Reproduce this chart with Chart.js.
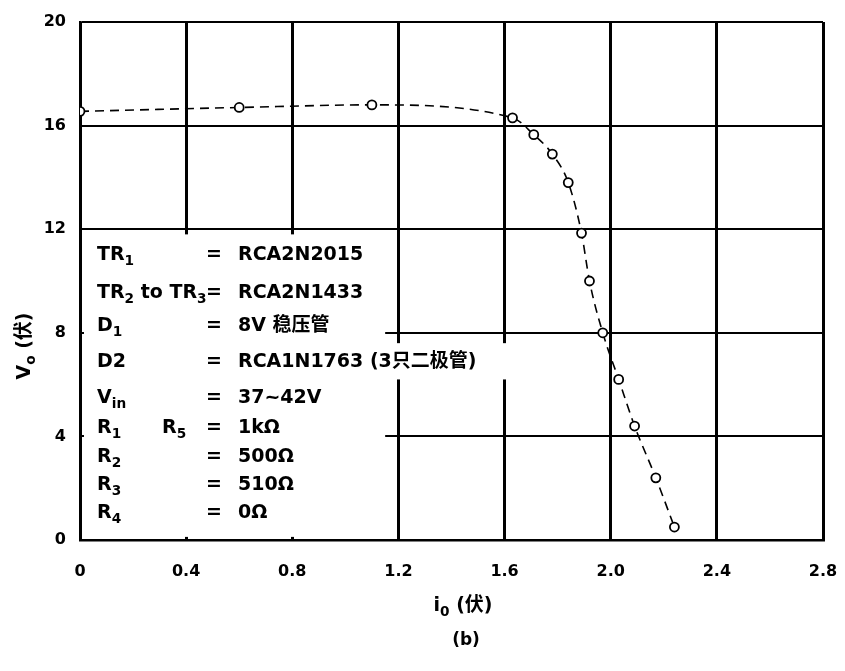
<!DOCTYPE html>
<html>
<head>
<meta charset="utf-8">
<script src="https://cdn.jsdelivr.net/npm/chart.js@4.4.0/dist/chart.umd.min.js"></script>
<style>
  html, body { margin: 0; padding: 0; background: #fff; }
  #wrap { width: 845px; height: 671px; }
</style>
</head>
<body>
<div id="wrap"><canvas id="chart" width="845" height="671"></canvas></div>
<script>
// output current i0 vs output voltage V0
const currentValues = [0, 0.6, 1.1, 1.63, 1.71, 1.78, 1.84, 1.89, 1.92, 1.97, 2.03, 2.09, 2.17, 2.24];
const voltageValues = [16.55, 16.7, 16.8, 16.3, 15.65, 14.9, 13.8, 11.85, 10.0, 8.0, 6.2, 4.4, 2.4, 0.5];

const xTicks = [0, 0.4, 0.8, 1.2, 1.6, 2.0, 2.4, 2.8];
const yTicks = [0, 4, 8, 12, 16, 20];

// component list, "_{..}" marks a subscript, "|" jumps to second name column
const paramNames = ["TR_{1}", "TR_{2} to TR_{3}", "D_{1}", "D2", "V_{in}", "R_{1}|R_{5}", "R_{2}", "R_{3}", "R_{4}"];
const paramValues = ["RCA2N2015", "RCA2N1433", "8V 稳压管", "RCA1N1763 (3只二极管)", "37~42V", "1kΩ", "500Ω", "510Ω", "0Ω"];

const xTitle = "i_{0} (伏)";
const yTitle = "V_{o} (伏)";
const caption = "(b)";

const FONT = "'DejaVu Sans', 'Noto Sans CJK SC', sans-serif";

// draw text with subscripts, returns end x
function drawRich(ctx, str, x, y, size, measureOnly) {
    const parts = str.split(/(_\{[^}]*\})/).filter(p => p.length);
    parts.forEach(p => {
        let t = p, s = size, dy = 0;
        if (p.startsWith("_{")) {
            t = p.slice(2, -1);
            s = size * 0.72;
            dy = size * 0.32;
        }
        ctx.font = `bold ${s}px ${FONT}`;
        if (!measureOnly) ctx.fillText(t, x, y + dy);
        x += ctx.measureText(t).width;
    });
    return x;
}

const textPlugin = {
    id: "textPlugin",
    beforeDatasetsDraw(chart) {
        const ctx = chart.ctx;
        const xs = chart.scales.x;
        const ys = chart.scales.y;
        ctx.save();

        // white panel behind the component list
        ctx.fillStyle = "#fff";
        const bx0 = xs.getPixelForValue(0.015), bx1 = xs.getPixelForValue(1.15);
        const by0 = ys.getPixelForValue(11.8), by1 = ys.getPixelForValue(0.12);
        ctx.fillRect(bx0, by0, bx1 - bx0, by1 - by0);
        const cx1 = xs.getPixelForValue(1.69);
        const cy0 = ys.getPixelForValue(7.6), cy1 = ys.getPixelForValue(6.2);
        ctx.fillRect(bx1, cy0, cx1 - bx1, cy1 - cy0);

        ctx.fillStyle = "#000";
        ctx.textBaseline = "middle";
        ctx.textAlign = "left";
        const rowY = [255, 293, 326, 362, 398, 428, 457, 485, 513];
        const size = 19;
        paramNames.forEach((name, i) => {
            const y = rowY[i];
            const cols = name.split("|");
            drawRich(ctx, cols[0], 97, y, size);
            if (cols[1]) drawRich(ctx, cols[1], 162, y, size);
            ctx.font = `bold ${size}px ${FONT}`;
            ctx.fillText("=", 206, y);
            ctx.fillText(paramValues[i], 238, y);
        });
        ctx.restore();
    },
    afterDraw(chart) {
        const ctx = chart.ctx;
        ctx.save();
        ctx.fillStyle = "#000";
        ctx.textBaseline = "middle";
        ctx.textAlign = "left";

        // x title
        let w = drawRich(ctx, xTitle, 0, 0, 19, true);
        drawRich(ctx, xTitle, 463 - w / 2, 606, 19);

        // caption
        ctx.font = `bold 17px ${FONT}`;
        ctx.textAlign = "center";
        ctx.fillText(caption, 466, 641);
        ctx.textAlign = "left";

        // y title, rotated
        ctx.translate(25, 346);
        ctx.rotate(-Math.PI / 2);
        w = drawRich(ctx, yTitle, 0, 0, 19, true);
        drawRich(ctx, yTitle, -w / 2, 0, 19);
        ctx.restore();
    }
};

const points = currentValues.map((x, i) => ({ x: x, y: voltageValues[i] }));

new Chart(document.getElementById("chart"), {
    type: "line",
    data: {
        datasets: [{
            data: points,
            borderColor: "#000",
            borderWidth: 1.6,
            borderDash: [9, 6],
            cubicInterpolationMode: "monotone",
            pointRadius: 4.5,
            pointBorderWidth: 1.8,
            pointBackgroundColor: "#fff",
            pointBorderColor: "#000",
            fill: false
        }]
    },
    options: {
        responsive: false,
        animation: false,
        layout: { padding: { left: 0, right: 22, top: 22, bottom: 0 } },
        plugins: {
            legend: { display: false },
            tooltip: { enabled: false }
        },
        scales: {
            x: {
                type: "linear",
                min: 0,
                max: 2.8,
                afterFit: scale => {
                    scale.height = 131;
                    scale.paddingLeft = 0;
                    scale.paddingRight = 0;
                },
                afterBuildTicks: scale => { scale.ticks = xTicks.map(v => ({ value: v })); },
                grid: { color: "#000", lineWidth: 3, drawTicks: false },
                border: { color: "#000", width: 2.5 },
                ticks: {
                    color: "#000",
                    padding: 22,
                    font: { family: FONT, size: 16, weight: "bold" },
                    callback: v => v === 0 ? "0" : v.toFixed(1)
                }
            },
            y: {
                type: "linear",
                min: 0,
                max: 20,
                afterFit: scale => {
                    scale.width = 80;
                    scale.paddingTop = 0;
                    scale.paddingBottom = 0;
                },
                afterBuildTicks: scale => { scale.ticks = yTicks.map(v => ({ value: v })); },
                grid: { color: "#000", lineWidth: 2, drawTicks: false },
                border: { color: "#000", width: 2.5 },
                ticks: {
                    color: "#000",
                    padding: 14,
                    font: { family: FONT, size: 16, weight: "bold" }
                }
            }
        }
    },
    plugins: [textPlugin]
});
</script>
</body>
</html>
